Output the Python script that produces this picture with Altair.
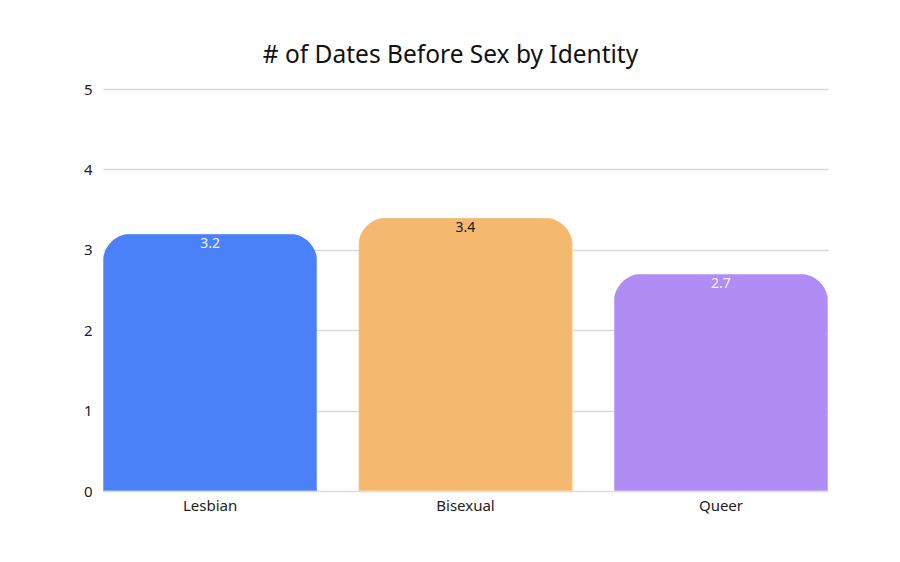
import altair as alt
import pandas as pd

categories = ["Lesbian", "Bisexual", "Queer"]
values = [3.2, 3.4, 2.7]
colors = ["#4A80F8", "#F4B86F", "#AF8DF4"]
label_colors = ["#F2F2FF", "#1A1A1A", "#F2F2FF"]
strokes = ["#8FB0FA", "#F8D3A3", "#CDB8F8"]

df = pd.DataFrame({"identity": categories, "value": values,
                   "color": colors, "lc": label_colors, "sc": strokes})

x = alt.X("identity:N", sort=categories, title=None,
          scale=alt.Scale(paddingInner=0.162, paddingOuter=0),
          axis=alt.Axis(labelAngle=0, labelFontSize=15, labelColor="#222222",
                        labelFont="Noto Sans", ticks=False, domainColor="#DDDDDD",
                        labelPadding=7))
y = alt.Y("value:Q", title=None,
          scale=alt.Scale(domain=[0, 5]),
          axis=alt.Axis(values=[0, 1, 2, 3, 4, 5], format="d", labelFontSize=15,
                        labelColor="#222222",
                        labelFont="Noto Sans", ticks=False, domain=False,
                        gridColor="#D9D9D9", gridWidth=1.5, labelPadding=11))

bars = alt.Chart(df).mark_bar(cornerRadiusTopLeft=28, cornerRadiusTopRight=28,
                              strokeWidth=1.5).encode(
    x=x, y=y,
    color=alt.Color("color:N", scale=None),
    stroke=alt.Stroke("sc:N", scale=None),
)

text = alt.Chart(df).mark_text(baseline="top", dy=3, fontSize=14, font="Noto Sans").encode(
    x=alt.X("identity:N", sort=categories),
    y="value:Q",
    text=alt.Text("value:Q", format=".1f"),
    color=alt.Color("lc:N", scale=None),
)

chart = (bars + text).properties(
    width=725, height=402,
    padding={"left": 75, "top": 34, "right": 40, "bottom": 20},
    title=alt.TitleParams("# of Dates Before Sex by Identity", fontSize=24.5,
                          font="Noto Sans", fontWeight="normal", color="#111111",
                          dx=-15, offset=14, anchor="middle"),
).configure_view(stroke=None)

chart.save("out.html", embed_options={"renderer": "svg", "actions": False})
